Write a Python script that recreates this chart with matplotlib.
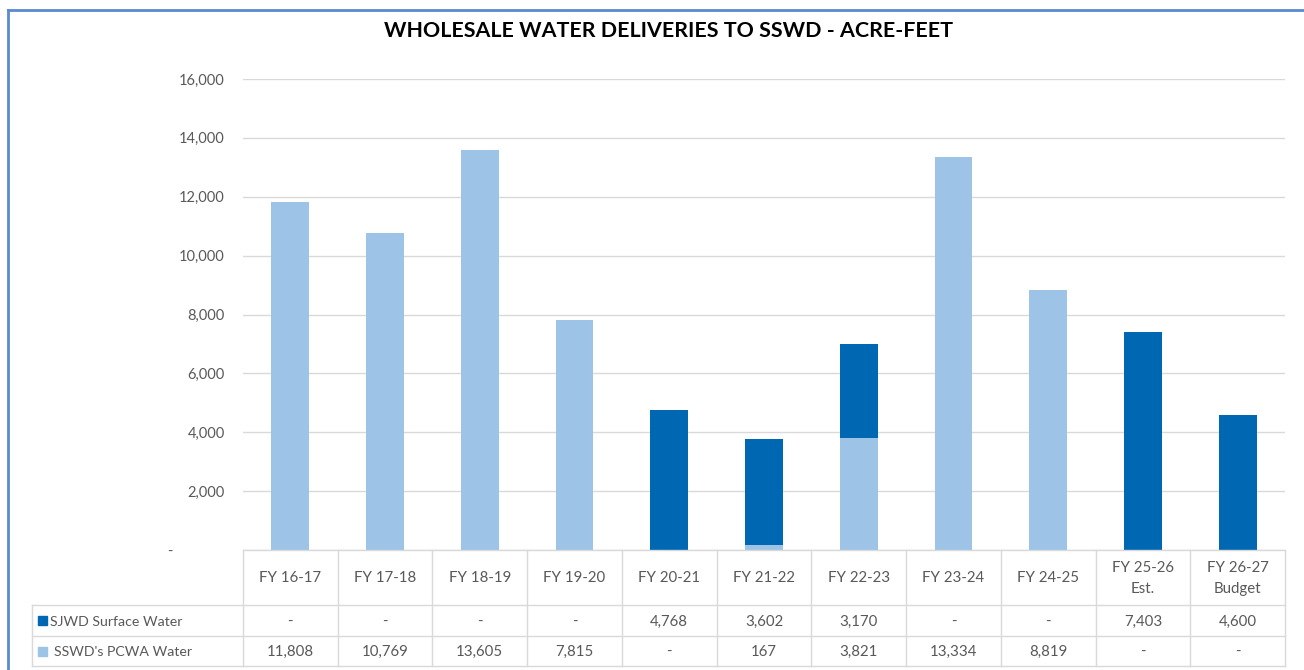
"""Entregas mayoristas de agua a SSWD (acre-pies), barras apiladas con tabla de datos."""

import matplotlib
matplotlib.use("Agg")
import matplotlib.pyplot as plt
from matplotlib.lines import Line2D
from matplotlib.patches import Rectangle
from matplotlib.transforms import blended_transform_factory

plt.rcParams["font.family"] = ["Lato", "DejaVu Sans"]

categories = ["FY 16-17", "FY 17-18", "FY 18-19", "FY 19-20", "FY 20-21", "FY 21-22",
              "FY 22-23", "FY 23-24", "FY 24-25", "FY 25-26\nEst.", "FY 26-27\nBudget"]
sjwd_surface = [0, 0, 0, 0, 4768, 3602, 3170, 0, 0, 7403, 4600]
pcwa_water = [11808, 10769, 13605, 7815, 0, 167, 3821, 13334, 8819, 0, 0]
series_names = ["SJWD Surface Water", "SSWD's PCWA Water"]
yticks = [0, 2000, 4000, 6000, 8000, 10000, 12000, 14000, 16000]

DARK = "#0067B2"
LIGHT = "#9DC3E6"
GRID = "#D9D9D9"
TXT = "#595959"

W, H = 1304, 670


def fx(px):
    return px / W


def fy(py):
    return 1 - py / H


def fmt(v):
    return "-" if v == 0 else f"{v:,}"


def main() -> None:
    fig = plt.figure(figsize=(W / 100, H / 100), dpi=100)
    ax = fig.add_axes([fx(243), fy(550), fx(1285) - fx(243), fy(79) - fy(550)])

    x = list(range(len(categories)))
    ax.bar(x, pcwa_water, width=0.4, color=LIGHT, zorder=2)
    ax.bar(x, sjwd_surface, width=0.4, bottom=pcwa_water, color=DARK, zorder=2)

    ax.set_xlim(-0.5, len(categories) - 0.5)
    ax.set_ylim(0, 16000)
    ax.set_yticks(yticks)
    ax.set_yticklabels([f"{t:,}" if t else "" for t in yticks], color=TXT, fontsize=10.5)
    ax.tick_params(axis="y", length=0, pad=13)
    ax.set_xticks([])
    ax.grid(True, axis="y", color=GRID, linewidth=1, zorder=0)
    for side in ("top", "right", "left"):
        ax.spines[side].set_visible(False)
    ax.spines["bottom"].set_color(GRID)
    ax.spines["bottom"].set_linewidth(1)
    ax.text(fx(170), fy(552), "-", transform=fig.transFigure, ha="center", va="center",
            color=TXT, fontsize=10.5)

    fig.text(fx(668), fy(31), "WHOLESALE WATER DELIVERIES TO SSWD - ACRE-FEET",
             ha="center", va="center", fontsize=15.4, fontweight="bold", color="black")

    # tabla de datos bajo el eje
    tr = blended_transform_factory(ax.transData, fig.transFigure)
    y_top, y_r1, y_r2, y_bot = 550, 605, 636, 666
    for i in range(len(categories) + 1):
        fig.add_artist(Line2D([i - 0.5, i - 0.5], [fy(y_top), fy(y_bot)], transform=tr,
                              color=GRID, linewidth=1))
    for yy in (y_r1, y_r2, y_bot):
        fig.add_artist(Line2D([fx(32), fx(1285)], [fy(yy), fy(yy)], transform=fig.transFigure,
                              color=GRID, linewidth=1))
    fig.add_artist(Line2D([fx(32), fx(32)], [fy(y_r1), fy(y_bot)], transform=fig.transFigure,
                          color=GRID, linewidth=1))

    for i, cat in enumerate(categories):
        ax.text(i, fy((y_top + y_r1) / 2 + 1), cat, transform=tr, ha="center", va="center",
                color=TXT, fontsize=10.8, linespacing=1.55)
        ax.text(i, fy((y_r1 + y_r2) / 2 + 1), fmt(sjwd_surface[i]), transform=tr,
                ha="center", va="center", color=TXT, fontsize=10.8)
        ax.text(i, fy((y_r2 + y_bot) / 2 + 1), fmt(pcwa_water[i]), transform=tr,
                ha="center", va="center", color=TXT, fontsize=10.8)

    for (yc, col, tx), name in zip([((y_r1 + y_r2) / 2, DARK, 50), ((y_r2 + y_bot) / 2, LIGHT, 54)],
                                   series_names):
        fig.add_artist(Rectangle((fx(38), fy(yc + 4.5)), fx(9), fy(0) - fy(9),
                                 transform=fig.transFigure, color=col))
        fig.text(fx(tx), fy(yc + 1), name, ha="left", va="center", color=TXT, fontsize=10.2)

    # marco azul del gráfico
    fig.add_artist(Line2D([fx(8), fx(8)], [0, fy(10)], transform=fig.transFigure,
                          color="#5A8AD0", linewidth=2))
    fig.add_artist(Line2D([fx(8), 1], [fy(10), fy(10)], transform=fig.transFigure,
                          color="#5A8AD0", linewidth=2))

    fig.savefig("out.png", dpi=100)
    plt.close(fig)


if __name__ == "__main__":
    main()
